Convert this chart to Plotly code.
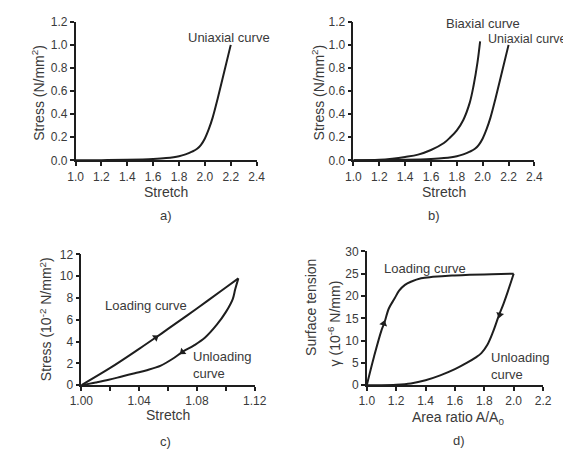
import plotly.graph_objects as go

# Panel a / b : uniaxial curve
uni_x = [1.0, 1.2, 1.4, 1.6, 1.7, 1.8, 1.85, 1.9, 1.94, 1.97, 2.0, 2.03, 2.06, 2.1, 2.15, 2.2]
uni_y = [0.0, 0.002, 0.005, 0.012, 0.02, 0.036, 0.052, 0.075, 0.1, 0.135, 0.19, 0.27, 0.37, 0.54, 0.77, 1.0]
# Panel b : biaxial curve
bi_x = [1.0, 1.2, 1.3, 1.4, 1.5, 1.6, 1.7, 1.75, 1.8, 1.85, 1.9, 1.93, 1.96, 1.98]
bi_y = [0.0, 0.005, 0.015, 0.03, 0.05, 0.09, 0.15, 0.2, 0.26, 0.35, 0.5, 0.65, 0.85, 1.03]
# Panel c : hysteresis in stretch
cl_x = [1.0, 1.02, 1.04, 1.0515, 1.06, 1.08, 1.1, 1.1087]
cl_y = [0.0, 1.58, 3.33, 4.37, 5.16, 7.04, 8.96, 9.8]
cu_x = [1.1087, 1.1065, 1.1048, 1.100, 1.0935, 1.0855, 1.078, 1.07, 1.063, 1.055, 1.046, 1.037, 1.028, 1.019, 1.01, 1.0]
cu_y = [9.8, 8.8, 7.9, 6.7, 5.5, 4.35, 3.65, 3.05, 2.4, 1.8, 1.4, 1.1, 0.8, 0.5, 0.25, 0.0]
c_arrows_x = [1.0515, 1.070]
c_arrows_y = [4.37, 3.05]
# Panel d : surface tension hysteresis
dl_x = [1.0, 1.05, 1.1, 1.12, 1.15, 1.19, 1.22, 1.26, 1.3, 1.37, 1.45, 1.58, 1.7, 1.85, 2.0]
dl_y = [0.0, 6.5, 12.3, 14.0, 17.2, 19.5, 21.2, 22.5, 23.2, 24.0, 24.3, 24.6, 24.75, 24.9, 25.0]
du_x = [2.0, 1.96, 1.93, 1.9, 1.86, 1.82, 1.78, 1.74, 1.68, 1.6, 1.5, 1.4, 1.3, 1.2, 1.1, 1.0]
du_y = [25.0, 21.0, 18.2, 15.7, 12.0, 9.0, 7.2, 6.2, 5.0, 3.6, 2.2, 1.1, 0.4, 0.1, 0.0, 0.0]
d_arrows_x = [1.115, 1.905]
d_arrows_y = [13.8, 15.8]

LC = "#1e1e1e"
TC = "#3a3a3a"
FONT = "Liberation Sans, Arial, sans-serif"
W, H = 571, 453

def px(a, b):
    return [a / W, b / W]

def py(top, bot):
    return [1 - bot / H, 1 - top / H]

fig = go.Figure()
line = dict(color=LC, width=2)

fig.add_trace(go.Scatter(x=uni_x, y=uni_y, mode="lines", line_shape="spline", line=line, xaxis="x", yaxis="y"))
fig.add_trace(go.Scatter(x=bi_x, y=bi_y, mode="lines", line_shape="spline", line=line, xaxis="x2", yaxis="y2"))
fig.add_trace(go.Scatter(x=uni_x, y=uni_y, mode="lines", line_shape="spline", line=line, xaxis="x2", yaxis="y2"))
fig.add_trace(go.Scatter(x=cl_x, y=cl_y, mode="lines", line_shape="spline", line=line, xaxis="x3", yaxis="y3"))
fig.add_trace(go.Scatter(x=cu_x, y=cu_y, mode="lines", line_shape="spline", line=line, xaxis="x3", yaxis="y3"))
fig.add_trace(go.Scatter(x=c_arrows_x, y=c_arrows_y, mode="markers", xaxis="x3", yaxis="y3",
                         marker=dict(symbol="triangle-up", size=7, color=LC, angle=[56, 230])))
fig.add_trace(go.Scatter(x=dl_x, y=dl_y, mode="lines", line_shape="spline", line=line, xaxis="x4", yaxis="y4"))
fig.add_trace(go.Scatter(x=du_x, y=du_y, mode="lines", line_shape="spline", line=line, xaxis="x4", yaxis="y4"))
fig.add_trace(go.Scatter(x=d_arrows_x, y=d_arrows_y, mode="markers", xaxis="x4", yaxis="y4",
                         marker=dict(symbol="triangle-up", size=7, color=LC, angle=[15, 195])))

def ax(domain, rng, tickvals, ticktext, anchor):
    return dict(domain=domain, range=rng, tickvals=tickvals, ticktext=ticktext, anchor=anchor,
                showline=True, linecolor=LC, linewidth=1.5, ticks="outside", ticklen=4, tickwidth=1.5,
                tickcolor=LC, showgrid=False, zeroline=False, fixedrange=True,
                tickfont=dict(family=FONT, size=12, color=TC))

xa_vals = [1.0, 1.2, 1.4, 1.6, 1.8, 2.0, 2.2, 2.4]
xa_text = ["1.0", "1.2", "1.4", "1.6", "1.8", "2.0", "2.2", "2.4"]
ya_vals = [0, 0.2, 0.4, 0.6, 0.8, 1.0, 1.2]
ya_text = ["0.0", "0.2", "0.4", "0.6", "0.8", "1.0", "1.2"]
xc_vals = [1.0, 1.02, 1.04, 1.06, 1.08, 1.10, 1.12]
xc_text = ["1.00", "", "1.04", "", "1.08", "", "1.12"]
yc_vals = [0, 2, 4, 6, 8, 10, 12]
yc_text = ["0", "2", "4", "6", "8", "10", "12"]
xd_vals = [1.0, 1.2, 1.4, 1.6, 1.8, 2.0, 2.2]
xd_text = ["1.0", "1.2", "1.4", "1.6", "1.8", "2.0", "2.2"]
yd_vals = [0, 5, 10, 15, 20, 25, 30]
yd_text = ["0", "5", "10", "15", "20", "25", "30"]

fig.update_layout(
    width=W, height=H, margin=dict(l=0, r=0, t=0, b=0),
    paper_bgcolor="white", plot_bgcolor="white", showlegend=False,
    font=dict(family=FONT, color=TC),
    xaxis=ax(px(58, 247), [1.0, 2.4], xa_vals, xa_text, "y"),
    yaxis=ax(py(7, 150), [0, 1.2], ya_vals, ya_text, "x"),
    xaxis2=ax(px(348, 537), [1.0, 2.4], xa_vals, xa_text, "y2"),
    yaxis2=ax(py(7, 150), [0, 1.2], ya_vals, ya_text, "x2"),
    xaxis3=ax(px(64, 245), [1.0, 1.12], xc_vals, xc_text, "y3"),
    yaxis3=ax(py(247, 382), [0, 12], yc_vals, yc_text, "x3"),
    xaxis4=ax(px(362, 546), [1.0, 2.2], xd_vals, xd_text, "y4"),
    yaxis4=ax(py(244, 382), [0, 30], yd_vals, yd_text, "x4"),
)

def txt(x, y, s, size=13, anchor="left", angle=0):
    fig.add_annotation(x=x / W, y=1 - y / H, xref="paper", yref="paper", text=s, showarrow=False,
                       xanchor=anchor, yanchor="middle", textangle=angle,
                       font=dict(family=FONT, size=size, color=TC))

# curve labels
txt(173, 23, "Uniaxial curve")
txt(443, 9, "Biaxial curve")
txt(486, 25, "Uniaxial curve", 12.5)
txt(87, 300, "Loading curve")
txt(178, 352, "Unloading")
txt(178, 370, "curve")
txt(378, 262, "Loading curve")
txt(490, 353, "Unloading")
txt(490, 371, "curve")
# axis titles
txt(152, 183, "Stretch", 14, "center")
txt(443, 183, "Stretch", 14, "center")
txt(154, 413, "Stretch", 14, "center")
txt(457, 416, "Area ratio A/A<sub>0</sub>", 14, "center")
txt(18, 80, "Stress (N/mm<sup>2</sup>)", 14, "center", -90)
txt(311, 80, "Stress (N/mm<sup>2</sup>)", 14, "center", -90)
txt(27, 314, "Stress (10<sup>-2</sup> N/mm<sup>2</sup>)", 14, "center", -90)
txt(303, 302, "Surface tension", 14, "center", -90)
txt(328, 318, "γ (10<sup>-6</sup> N/mm)", 14, "center", -90)
# panel labels
txt(152, 207, "a)", 13, "center")
txt(432, 207, "b)", 13, "center")
txt(152, 440, "c)", 13, "center")
txt(458, 439, "d)", 13, "center")

fig.write_html("out.html")
